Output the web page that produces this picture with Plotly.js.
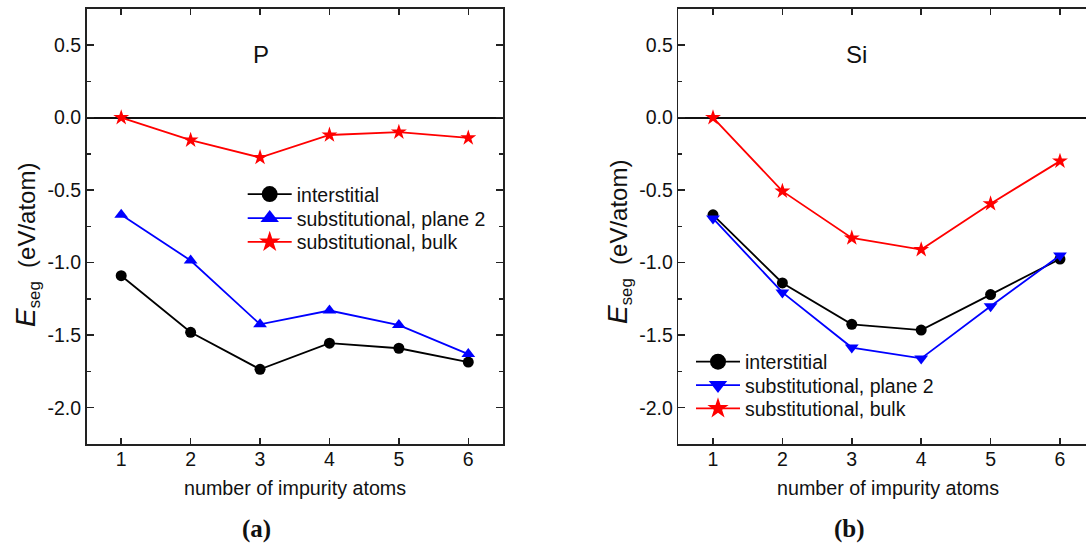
<!DOCTYPE html>
<html><head><meta charset="utf-8">
<script src="https://cdn.plot.ly/plotly-3.0.1.min.js"></script>
<style>html,body{margin:0;padding:0;background:#fff}</style>
</head><body><div id="chart" style="width:1086px;height:549px"></div>
<script>
// ---------- data ----------
const atoms = [1, 2, 3, 4, 5, 6];
const seriesNames = ['interstitial', 'substitutional, plane 2', 'substitutional, bulk'];
const pInterstitial = [-1.09, -1.48, -1.735, -1.555, -1.59, -1.685];
const pPlane2 = [-0.67, -0.985, -1.425, -1.33, -1.43, -1.63];
const pBulk = [0.0, -0.155, -0.275, -0.12, -0.10, -0.14];
const siInterstitial = [-0.67, -1.14, -1.425, -1.465, -1.22, -0.975];
const siPlane2 = [-0.695, -1.205, -1.585, -1.66, -1.30, -0.95];
const siBulk = [0.0, -0.507, -0.83, -0.91, -0.594, -0.30];
const xTickVals = [1, 2, 3, 4, 5, 6];
const yTickVals = [-2.0, -1.5, -1.0, -0.5, 0.0, 0.5];
const yTickText = ['-2.0', '-1.5', '-1.0', '-0.5', '0.0', '0.5'];
const panelLabels = ['P', 'Si'];
const panelTags = ['(a)', '(b)'];
const xTitle = 'number of impurity atoms';
const yTitle = '<span style="font-size:28px"><i>E</i></span><sub>seg</sub>  (eV/atom)';

// ---------- style ----------
const W = 1086, H = 549;
const FONT = 'Liberation Sans, Arial, sans-serif';
const SERIF = 'Liberation Serif, Times New Roman, serif';
const AX = '#222';
const colors = ['#000000', '#0000ff', '#ff0000'];
const symbolsP = ['circle', 'triangle-up', 'star'];
const symbolsSi = ['circle', 'triangle-down', 'star'];
const plotSizes = [11, 12, 12];

function series(xa, ya, ys, symbols, legends) {
  const out = [];
  ys.forEach((y, i) => {
    out.push({
      x: atoms, y: y, xaxis: xa, yaxis: ya, type: 'scatter', mode: 'lines+markers',
      name: seriesNames[i], showlegend: false,
      line: {color: colors[i], width: 1.8},
      marker: {symbol: symbols[i], size: plotSizes[i], color: colors[i]}
    });
    // legend entry (no data points)
    out.push({
      x: [null], y: [null], xaxis: xa, yaxis: ya, type: 'scatter', mode: 'lines+markers',
      name: seriesNames[i], showlegend: true, legend: legends[i], hoverinfo: 'skip',
      line: {color: colors[i], width: 1.8},
      marker: {symbol: symbols[i], size: 16, color: colors[i]}
    });
  });
  return out;
}

const data = [].concat(
  series('x', 'y', [pInterstitial, pPlane2, pBulk], symbolsP, ['legend', 'legend2', 'legend3']),
  series('x2', 'y2', [siInterstitial, siPlane2, siBulk], symbolsSi, ['legend4', 'legend5', 'legend6'])
);

function xax(domain, range, anchor) {
  return {
    domain: domain, range: range, anchor: anchor,
    tickmode: 'array', tickvals: xTickVals,
    ticks: 'inside', ticklen: 6, tickwidth: 1.5, tickcolor: AX,
    ticklabelstandoff: -3,
    showline: true, linecolor: AX, linewidth: 1.6, mirror: 'ticks',
    showgrid: false, zeroline: false,
    tickfont: {family: FONT, size: 19.5, color: '#111'}
  };
}
function yax(anchor, mirror) {
  return {
    domain: [1 - 444 / H, 1 - 8.8 / H], range: [-2.25, 0.75], anchor: anchor,
    tickmode: 'array', tickvals: yTickVals, ticktext: yTickText,
    ticks: 'inside', ticklen: 7, tickwidth: 1.5, tickcolor: AX,
    minor: {tickmode: 'linear', tick0: 0, dtick: 0.25, ticks: 'inside', ticklen: 4, tickwidth: 1.5, tickcolor: AX},
    showline: true, linecolor: AX, linewidth: 1.6, mirror: mirror,
    showgrid: false, zeroline: true, zerolinecolor: '#111', zerolinewidth: 2,
    tickfont: {family: FONT, size: 19.5, color: '#111'}
  };
}
function leg(xpx, toppx) {
  return {
    x: xpx / W, y: 1 - toppx / H, xanchor: 'left', yanchor: 'top',
    bgcolor: 'rgba(0,0,0,0)', borderwidth: 0, itemwidth: 44, itemsizing: 'trace',
    font: {family: FONT, size: 19.5, color: '#111'}
  };
}
function ann(text, xpx, ypx, size, extra) {
  return Object.assign({
    text: text, xref: 'paper', yref: 'paper', x: xpx / W, y: 1 - ypx / H,
    xanchor: 'center', yanchor: 'middle', showarrow: false,
    font: {family: FONT, size: size, color: '#111'}
  }, extra || {});
}

const layout = {
  width: W, height: H,
  margin: {l: 0, r: 0, t: 0, b: 0},
  paper_bgcolor: '#fff', plot_bgcolor: '#fff',
  showlegend: true,
  xaxis: xax([86.5 / W, 503 / W], [0.5, 6.5], 'y'),
  yaxis: yax('x', 'ticks'),
  xaxis2: xax([678.3 / W, 1], [0.5, 6.375], 'y2'),
  yaxis2: yax('x2', false),
  legend: leg(242.7, 174.9),
  legend2: leg(242.7, 198.9),
  legend3: leg(242.7, 222.7),
  legend4: leg(691, 342.5),
  legend5: leg(691, 365.9),
  legend6: leg(691, 389.2),
  annotations: [
    ann(panelLabels[0], 261, 54, 24),
    ann(panelLabels[1], 856.4, 54, 24),
    ann(xTitle, 295, 488, 19.7),
    ann(xTitle, 888, 488, 19.7),
    ann(yTitle, 27, 245, 24, {textangle: -90}),
    ann(yTitle, 619, 242, 24, {textangle: -90}),
    ann('<b>' + panelTags[0] + '</b>', 256, 529, 25, {font: {family: SERIF, size: 25, color: '#111'}}),
    ann('<b>' + panelTags[1] + '</b>', 849.4, 529, 25, {font: {family: SERIF, size: 25, color: '#111'}})
  ]
};

Plotly.newPlot('chart', data, layout, {displayModeBar: false, staticPlot: true});
</script>
</body></html>
